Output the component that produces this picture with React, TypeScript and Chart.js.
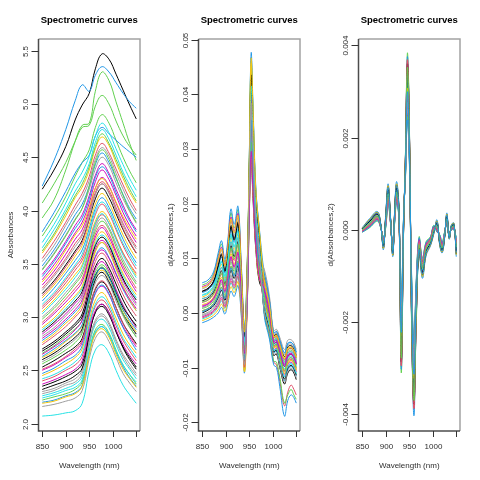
import React, { useEffect, useRef } from 'react';
import { Chart, registerables } from 'chart.js';

Chart.register(...registerables);

// ---------- shared axis data ----------
const panelTitle = 'Spectrometric curves';
const xTitle = 'Wavelength (nm)';
const xTicks = [850, 900, 950, 1000, 1050];
const xTickLabels = ['850', '900', '950', '1000', ''];
const palette = ['#000000', '#DF536B', '#61D04F', '#2297E6', '#28E2E5', '#CD0BBC', '#F5C710', '#9E9E9E'];

// ---------- panel 1: absorbances ----------
const wavelengths1 = [850, 875, 900, 920, 935, 950, 963, 977, 992, 1007, 1022, 1036, 1050];
const absorbanceCurves = [
  [4.20, 4.38, 4.60, 4.85, 4.99, 5.10, 5.33, 5.47, 5.42, 5.28, 5.13, 4.99, 4.86],
  [2.95, 3.05, 3.17, 3.27, 3.36, 3.58, 3.78, 3.86, 3.78, 3.62, 3.48, 3.37, 3.27],
  [3.93, 4.10, 4.38, 4.65, 4.80, 4.82, 5.12, 5.30, 5.22, 5.02, 4.82, 4.63, 4.47],
  [4.23, 4.47, 4.76, 5.03, 5.18, 5.12, 5.27, 5.35, 5.30, 5.20, 5.10, 5.02, 4.96],
  [2.07, 2.08, 2.10, 2.12, 2.19, 2.50, 2.69, 2.74, 2.66, 2.50, 2.36, 2.27, 2.19],
  [3.40, 3.54, 3.71, 3.86, 3.96, 4.14, 4.33, 4.44, 4.35, 4.20, 4.05, 3.92, 3.82],
  [2.62, 2.68, 2.77, 2.84, 2.92, 3.18, 3.37, 3.44, 3.36, 3.20, 3.06, 2.95, 2.86],
  [2.16, 2.18, 2.21, 2.24, 2.31, 2.61, 2.80, 2.86, 2.77, 2.62, 2.47, 2.38, 2.30],
  [3.22, 3.34, 3.49, 3.62, 3.72, 3.92, 4.11, 4.21, 4.12, 3.97, 3.82, 3.70, 3.60],
  [2.40, 2.44, 2.50, 2.55, 2.63, 2.91, 3.10, 3.16, 3.08, 2.92, 2.78, 2.68, 2.59],
  [3.76, 3.93, 4.13, 4.32, 4.45, 4.57, 4.78, 4.90, 4.82, 4.66, 4.50, 4.37, 4.26],
  [2.78, 2.86, 2.96, 3.05, 3.13, 3.37, 3.57, 3.65, 3.56, 3.41, 3.26, 3.15, 3.06],
  [3.65, 3.82, 4.01, 4.18, 4.29, 4.44, 4.64, 4.76, 4.67, 4.52, 4.36, 4.24, 4.13],
  [2.50, 2.55, 2.62, 2.68, 2.76, 3.03, 3.22, 3.29, 3.21, 3.05, 2.91, 2.81, 2.72],
  [3.05, 3.16, 3.29, 3.40, 3.49, 3.71, 3.90, 3.99, 3.91, 3.75, 3.60, 3.49, 3.39],
  [2.30, 2.33, 2.38, 2.42, 2.50, 2.78, 2.97, 3.03, 2.95, 2.79, 2.65, 2.56, 2.47],
  [2.70, 2.77, 2.86, 2.94, 3.03, 3.28, 3.47, 3.55, 3.46, 3.31, 3.16, 3.05, 2.96],
  [3.55, 3.71, 3.89, 4.05, 4.16, 4.32, 4.52, 4.63, 4.54, 4.39, 4.24, 4.11, 4.00],
  [2.22, 2.25, 2.28, 2.32, 2.39, 2.68, 2.88, 2.93, 2.85, 2.69, 2.55, 2.46, 2.37],
  [3.80, 3.98, 4.18, 4.35, 4.45, 4.52, 4.70, 4.78, 4.72, 4.66, 4.60, 4.55, 4.50],
  [2.88, 2.97, 3.08, 3.18, 3.27, 3.50, 3.69, 3.77, 3.69, 3.53, 3.39, 3.28, 3.18],
  [3.30, 3.43, 3.59, 3.73, 3.82, 4.01, 4.21, 4.31, 4.23, 4.07, 3.92, 3.80, 3.70],
  [2.45, 2.50, 2.56, 2.62, 2.70, 2.97, 3.16, 3.23, 3.14, 2.99, 2.84, 2.74, 2.66],
  [2.58, 2.64, 2.72, 2.79, 2.87, 3.13, 3.32, 3.39, 3.31, 3.15, 3.01, 2.90, 2.82],
  [2.35, 2.39, 2.44, 2.49, 2.56, 2.84, 3.04, 3.10, 3.02, 2.86, 2.72, 2.62, 2.53],
  [3.10, 3.21, 3.35, 3.47, 3.56, 3.77, 3.96, 4.06, 3.97, 3.82, 3.67, 3.55, 3.45],
  [2.66, 2.73, 2.82, 2.89, 2.97, 3.23, 3.42, 3.49, 3.41, 3.25, 3.11, 3.00, 2.91],
  [3.48, 3.63, 3.81, 3.96, 4.06, 4.23, 4.43, 4.54, 4.45, 4.30, 4.15, 4.02, 3.92],
  [2.26, 2.29, 2.33, 2.37, 2.44, 2.73, 2.93, 2.98, 2.90, 2.74, 2.60, 2.51, 2.42],
  [2.84, 2.93, 3.03, 3.13, 3.21, 3.45, 3.64, 3.72, 3.64, 3.48, 3.34, 3.23, 3.13],
  [3.60, 3.76, 3.95, 4.12, 4.22, 4.38, 4.58, 4.69, 4.61, 4.45, 4.30, 4.17, 4.07],
  [3.00, 3.10, 3.23, 3.33, 3.43, 3.64, 3.84, 3.93, 3.84, 3.69, 3.54, 3.43, 3.33],
  [2.53, 2.59, 2.66, 2.72, 2.80, 3.07, 3.26, 3.33, 3.25, 3.09, 2.94, 2.84, 2.75],
  [2.74, 2.82, 2.91, 3.00, 3.08, 3.32, 3.52, 3.60, 3.51, 3.36, 3.21, 3.10, 3.01],
  [4.07, 4.25, 4.45, 4.65, 4.78, 4.80, 4.98, 5.08, 5.00, 4.84, 4.70, 4.60, 4.52],
  [3.15, 3.27, 3.41, 3.53, 3.63, 3.83, 4.02, 4.12, 4.03, 3.88, 3.73, 3.61, 3.51],
  [2.42, 2.46, 2.52, 2.58, 2.66, 2.93, 3.12, 3.19, 3.11, 2.95, 2.80, 2.71, 2.62],
  [3.35, 3.49, 3.65, 3.79, 3.89, 4.07, 4.27, 4.38, 4.29, 4.14, 3.98, 3.86, 3.76],
  [2.90, 2.99, 3.11, 3.20, 3.29, 3.52, 3.72, 3.80, 3.72, 3.56, 3.41, 3.30, 3.21],
  [3.45, 3.60, 3.77, 3.92, 4.02, 4.20, 4.39, 4.50, 4.42, 4.26, 4.11, 3.99, 3.88],
  [2.60, 2.66, 2.74, 2.81, 2.89, 3.15, 3.35, 3.42, 3.33, 3.18, 3.03, 2.93, 2.84],
  [3.27, 3.40, 3.55, 3.69, 3.78, 3.98, 4.17, 4.27, 4.19, 4.03, 3.88, 3.76, 3.66],
  [2.98, 3.08, 3.20, 3.31, 3.40, 3.62, 3.81, 3.90, 3.82, 3.66, 3.51, 3.40, 3.31],
  [2.20, 2.22, 2.26, 2.29, 2.36, 2.66, 2.85, 2.91, 2.83, 2.67, 2.53, 2.43, 2.35],
  [3.70, 3.87, 4.07, 4.25, 4.36, 4.51, 4.70, 4.82, 4.73, 4.58, 4.43, 4.30, 4.19],
  [2.65, 2.72, 2.80, 2.88, 2.97, 3.25, 3.45, 3.52, 3.43, 3.26, 3.11, 3.00, 2.90],
  [3.18, 3.30, 3.44, 3.57, 3.67, 3.87, 4.06, 4.16, 4.07, 3.92, 3.77, 3.65, 3.55],
  [2.82, 2.90, 3.01, 3.10, 3.19, 3.42, 3.62, 3.70, 3.61, 3.46, 3.31, 3.20, 3.11],
  [2.32, 2.36, 2.40, 2.45, 2.52, 2.83, 3.05, 3.12, 3.04, 2.87, 2.71, 2.60, 2.51],
  [3.08, 3.19, 3.32, 3.44, 3.53, 3.70, 3.87, 3.96, 3.88, 3.74, 3.60, 3.50, 3.41],
  [2.56, 2.62, 2.69, 2.76, 2.85, 3.15, 3.39, 3.47, 3.38, 3.20, 3.03, 2.91, 2.81],
  [3.38, 3.52, 3.69, 3.83, 3.93, 4.11, 4.31, 4.41, 4.33, 4.17, 4.02, 3.90, 3.80],
  [2.24, 2.27, 2.31, 2.34, 2.41, 2.68, 2.86, 2.91, 2.83, 2.68, 2.55, 2.46, 2.39],
  [2.93, 3.03, 3.14, 3.24, 3.33, 3.56, 3.75, 3.84, 3.75, 3.60, 3.45, 3.34, 3.24],
  [2.76, 2.84, 2.94, 3.02, 3.12, 3.39, 3.61, 3.70, 3.62, 3.45, 3.29, 3.16, 3.06],
  [3.52, 3.67, 3.86, 4.01, 4.12, 4.28, 4.48, 4.59, 4.51, 4.35, 4.20, 4.07, 3.97],
  [2.68, 2.75, 2.84, 2.92, 3.00, 3.22, 3.39, 3.46, 3.38, 3.23, 3.09, 3.00, 2.92],
  [3.20, 3.32, 3.47, 3.60, 3.70, 3.93, 4.15, 4.25, 4.17, 4.00, 3.83, 3.71, 3.60],
  [3.62, 3.78, 3.98, 4.14, 4.25, 4.41, 4.60, 4.72, 4.63, 4.48, 4.33, 4.20, 4.09],
  [2.47, 2.52, 2.59, 2.64, 2.73, 3.02, 3.23, 3.30, 3.22, 3.05, 2.90, 2.79, 2.69],
  [3.03, 3.14, 3.26, 3.37, 3.47, 3.68, 3.88, 3.97, 3.88, 3.73, 3.58, 3.47, 3.37],
  [2.37, 2.41, 2.46, 2.51, 2.59, 2.87, 3.06, 3.12, 3.04, 2.88, 2.74, 2.64, 2.56],
  [3.33, 3.46, 3.63, 3.77, 3.86, 4.03, 4.21, 4.30, 4.22, 4.08, 3.94, 3.83, 3.73],
  [2.28, 2.31, 2.36, 2.39, 2.47, 2.76, 2.95, 3.01, 2.93, 2.77, 2.63, 2.53, 2.45],
  [2.86, 2.95, 3.06, 3.15, 3.24, 3.47, 3.67, 3.75, 3.67, 3.51, 3.36, 3.25, 3.16],
  [2.51, 2.56, 2.63, 2.70, 2.78, 3.06, 3.27, 3.34, 3.26, 3.09, 2.94, 2.83, 2.74],
  [3.44, 3.59, 3.76, 3.91, 4.02, 4.23, 4.45, 4.57, 4.48, 4.31, 4.14, 4.00, 3.89],
  [2.63, 2.70, 2.78, 2.85, 2.93, 3.19, 3.38, 3.46, 3.37, 3.22, 3.07, 2.97, 2.88],
  [3.12, 3.23, 3.37, 3.49, 3.59, 3.79, 3.99, 4.08, 4.00, 3.84, 3.69, 3.58, 3.48],
  [2.80, 2.88, 2.98, 3.07, 3.16, 3.38, 3.56, 3.63, 3.55, 3.40, 3.27, 3.17, 3.08],
  [2.19, 2.21, 2.25, 2.28, 2.35, 2.65, 2.84, 2.89, 2.81, 2.65, 2.51, 2.42, 2.34],
  [3.25, 3.38, 3.53, 3.66, 3.76, 3.95, 4.15, 4.25, 4.16, 4.01, 3.86, 3.74, 3.64],
];
const yTicks1 = [2.0, 2.5, 3.0, 3.5, 4.0, 4.5, 5.0, 5.5];
const yTickLabels1 = ['2.0', '2.5', '3.0', '3.5', '4.0', '4.5', '5.0', '5.5'];

// ---------- panel 2: first derivative ----------
const wavelengths2 = [850, 862, 874, 884, 891, 898, 904, 911, 918, 926, 933, 940, 946, 950, 954, 958, 964, 972, 982, 993, 1002, 1008, 1015, 1025, 1032, 1039, 1045, 1050];
const firstDerivCurves = [
  [22e-4, 27e-4, 38e-4, 61e-4, 77e-4, 53e-4, 78e-4, 123e-4, 103e-4, 130e-4, 47e-4, -63e-4, 24e-4, 176e-4, 280e-4, 209e-4, 116e-4, 55e-4, 40e-4, -5e-4, -56e-4, -53e-4, -72e-4, -98e-4, -80e-4, -76e-4, -82e-4, -94e-4],
  [4e-4, 8e-4, 17e-4, 33e-4, 47e-4, 28e-4, 50e-4, 85e-4, 70e-4, 94e-4, 24e-4, -84e-4, 64e-4, 231e-4, 383e-4, 299e-4, 176e-4, 105e-4, 32e-4, -12e-4, -60e-4, -57e-4, -78e-4, -105e-4, -86e-4, -82e-4, -88e-4, -100e-4],
  [51e-4, 56e-4, 71e-4, 105e-4, 126e-4, 93e-4, 124e-4, 183e-4, 155e-4, 188e-4, 85e-4, -29e-4, 94e-4, 271e-4, 459e-4, 366e-4, 220e-4, 142e-4, 56e-4, 9e-4, -46e-4, -43e-4, -61e-4, -86e-4, -68e-4, -65e-4, -71e-4, -83e-4],
  [55e-4, 60e-4, 75e-4, 110e-4, 132e-4, 98e-4, 130e-4, 190e-4, 162e-4, 195e-4, 90e-4, -25e-4, 100e-4, 280e-4, 475e-4, 380e-4, 230e-4, 150e-4, 72e-4, 23e-4, -37e-4, -34e-4, -50e-4, -73e-4, -56e-4, -54e-4, -60e-4, -72e-4],
  [-11e-4, -7e-4, 0, 11e-4, 22e-4, 8e-4, 27e-4, 55e-4, 43e-4, 65e-4, 5e-4, -101e-4, 56e-4, 220e-4, 362e-4, 281e-4, 164e-4, 95e-4, 16e-4, -26e-4, -69e-4, -66e-4, -89e-4, -117e-4, -98e-4, -93e-4, -99e-4, -111e-4],
  [11e-4, 16e-4, 25e-4, 44e-4, 59e-4, 38e-4, 61e-4, 100e-4, 83e-4, 108e-4, 33e-4, -75e-4, 48e-4, 209e-4, 342e-4, 263e-4, 152e-4, 85e-4, 48e-4, 2e-4, -51e-4, -48e-4, -67e-4, -92e-4, -74e-4, -71e-4, -77e-4, -89e-4],
  [29e-4, 34e-4, 46e-4, 72e-4, 89e-4, 63e-4, 90e-4, 138e-4, 116e-4, 144e-4, 57e-4, -105e-4, 32e-4, 187e-4, 301e-4, 227e-4, 128e-4, 65e-4, 24e-4, -19e-4, -64e-4, -61e-4, -83e-4, -111e-4, -92e-4, -87e-4, -93e-4, -105e-4],
  [-3e-4, 1e-4, 9e-4, 22e-4, 34e-4, 18e-4, 38e-4, 70e-4, 56e-4, 79e-4, 14e-4, -92e-4, 68e-4, 236e-4, 393e-4, 308e-4, 182e-4, 110e-4, 44e-4, -1e-4, -53e-4, -50e-4, -70e-4, -95e-4, -77e-4, -74e-4, -80e-4, -92e-4],
  [40e-4, 45e-4, 58e-4, 88e-4, 108e-4, 78e-4, 107e-4, 160e-4, 136e-4, 166e-4, 71e-4, -42e-4, 52e-4, 214e-4, 352e-4, 272e-4, 158e-4, 90e-4, 64e-4, 16e-4, -42e-4, -39e-4, -56e-4, -80e-4, -62e-4, -60e-4, -66e-4, -78e-4],
  [19e-4, 23e-4, 34e-4, 55e-4, 71e-4, 48e-4, 73e-4, 115e-4, 96e-4, 123e-4, 43e-4, -67e-4, 80e-4, 253e-4, 424e-4, 335e-4, 200e-4, 125e-4, 28e-4, -15e-4, -62e-4, -59e-4, -81e-4, -108e-4, -89e-4, -85e-4, -91e-4, -103e-4],
  [8e-4, 12e-4, 21e-4, 39e-4, 53e-4, 33e-4, 55e-4, 93e-4, 76e-4, 101e-4, 28e-4, -80e-4, 88e-4, 264e-4, 444e-4, 353e-4, 212e-4, 135e-4, 52e-4, 6e-4, -49e-4, -46e-4, -64e-4, -89e-4, -71e-4, -68e-4, -74e-4, -86e-4],
  [-18e-4, -14e-4, -8e-4, 0, 10e-4, -2e-4, 15e-4, 40e-4, 30e-4, 50e-4, -5e-4, -109e-4, 76e-4, 247e-4, 414e-4, 326e-4, 194e-4, 120e-4, 8e-4, -33e-4, -73e-4, -70e-4, -94e-4, -124e-4, -104e-4, -98e-4, -104e-4, -116e-4],
  [33e-4, 38e-4, 50e-4, 77e-4, 95e-4, 68e-4, 96e-4, 145e-4, 122e-4, 152e-4, 62e-4, -50e-4, 44e-4, 203e-4, 332e-4, 254e-4, 146e-4, 80e-4, 36e-4, -8e-4, -58e-4, -55e-4, -75e-4, -102e-4, -83e-4, -79e-4, -85e-4, -97e-4],
  [-7e-4, -3e-4, 4e-4, 17e-4, 28e-4, 13e-4, 32e-4, 63e-4, 50e-4, 72e-4, 9e-4, -96e-4, 36e-4, 192e-4, 311e-4, 236e-4, 134e-4, 70e-4, 20e-4, -22e-4, -67e-4, -64e-4, -86e-4, -114e-4, -95e-4, -90e-4, -96e-4, -108e-4],
  [15e-4, 19e-4, 29e-4, 50e-4, 65e-4, 43e-4, 67e-4, 108e-4, 89e-4, 115e-4, 38e-4, -108e-4, 28e-4, 181e-4, 291e-4, 218e-4, 122e-4, 60e-4, 60e-4, 13e-4, -44e-4, -41e-4, -59e-4, -83e-4, -65e-4, -63e-4, -69e-4, -81e-4],
  [44e-4, 49e-4, 63e-4, 94e-4, 114e-4, 83e-4, 113e-4, 168e-4, 142e-4, 173e-4, 76e-4, -38e-4, 60e-4, 225e-4, 373e-4, 290e-4, 170e-4, 100e-4, 80e-4, 30e-4, -33e-4, -30e-4, -45e-4, -67e-4, -50e-4, -49e-4, -55e-4, -67e-4],
  [0, 5e-4, 13e-4, 28e-4, 41e-4, 23e-4, 44e-4, 78e-4, 63e-4, 86e-4, 19e-4, -88e-4, 72e-4, 242e-4, 403e-4, 317e-4, 188e-4, 115e-4, 0, -40e-4, -78e-4, -75e-4, -100e-4, -130e-4, -110e-4, -104e-4, -110e-4, -122e-4],
  [26e-4, 30e-4, 42e-4, 66e-4, 83e-4, 58e-4, 84e-4, 130e-4, 109e-4, 137e-4, 52e-4, -59e-4, 60e-4, 225e-4, 373e-4, 290e-4, 170e-4, 100e-4, 5e-4, -40e-4, -90e-4, -95e-4, -125e-4, -170e-4, -145e-4, -132e-4, -140e-4, -150e-4],
  [4e-4, 8e-4, 17e-4, 33e-4, 47e-4, 28e-4, 50e-4, 85e-4, 70e-4, 94e-4, 24e-4, -84e-4, 84e-4, 258e-4, 434e-4, 344e-4, 206e-4, 130e-4, 0, -42e-4, -88e-4, -90e-4, -118e-4, -165e-4, -150e-4, -140e-4, -150e-4, -158e-4],
  [37e-4, 42e-4, 54e-4, 83e-4, 102e-4, 73e-4, 101e-4, 153e-4, 129e-4, 159e-4, 66e-4, -46e-4, 96e-4, 275e-4, 465e-4, 371e-4, 224e-4, 145e-4, -5e-4, -48e-4, -95e-4, -100e-4, -135e-4, -189e-4, -160e-4, -150e-4, -155e-4, -165e-4],
  [26e-4, 30e-4, 42e-4, 66e-4, 83e-4, 58e-4, 84e-4, 130e-4, 109e-4, 137e-4, 52e-4, -59e-4, 40e-4, 198e-4, 321e-4, 245e-4, 140e-4, 75e-4, 48e-4, 2e-4, -51e-4, -48e-4, -67e-4, -92e-4, -74e-4, -71e-4, -77e-4, -89e-4],
  [48e-4, 53e-4, 67e-4, 99e-4, 120e-4, 88e-4, 119e-4, 175e-4, 149e-4, 181e-4, 81e-4, -33e-4, 68e-4, 236e-4, 393e-4, 308e-4, 182e-4, 110e-4, 40e-4, -5e-4, -56e-4, -53e-4, -72e-4, -98e-4, -80e-4, -76e-4, -82e-4, -94e-4],
  [-14e-4, -10e-4, -4e-4, 6e-4, 16e-4, 3e-4, 21e-4, 48e-4, 37e-4, 57e-4, 0, -105e-4, 92e-4, 269e-4, 455e-4, 362e-4, 218e-4, 140e-4, 24e-4, -19e-4, -64e-4, -61e-4, -83e-4, -111e-4, -92e-4, -87e-4, -93e-4, -105e-4],
  [10e-4, 14e-4, 24e-4, 42e-4, 56e-4, 36e-4, 59e-4, 97e-4, 80e-4, 105e-4, 31e-4, -77e-4, 56e-4, 220e-4, 362e-4, 281e-4, 164e-4, 95e-4, 68e-4, 20e-4, -40e-4, -37e-4, -53e-4, -76e-4, -59e-4, -57e-4, -63e-4, -75e-4],
  [39e-4, 44e-4, 57e-4, 86e-4, 105e-4, 76e-4, 105e-4, 157e-4, 133e-4, 163e-4, 69e-4, -43e-4, 84e-4, 258e-4, 434e-4, 344e-4, 206e-4, 130e-4, 12e-4, -30e-4, -71e-4, -68e-4, -92e-4, -121e-4, -101e-4, -96e-4, -102e-4, -114e-4],
  [-9e-4, -5e-4, 2e-4, 13e-4, 25e-4, 10e-4, 29e-4, 58e-4, 46e-4, 67e-4, 6e-4, -99e-4, 44e-4, 203e-4, 332e-4, 254e-4, 146e-4, 80e-4, 56e-4, 9e-4, -46e-4, -43e-4, -61e-4, -86e-4, -68e-4, -65e-4, -71e-4, -83e-4],
  [20e-4, 24e-4, 35e-4, 57e-4, 73e-4, 50e-4, 75e-4, 118e-4, 99e-4, 125e-4, 44e-4, -65e-4, 36e-4, 192e-4, 311e-4, 236e-4, 134e-4, 70e-4, 32e-4, -12e-4, -60e-4, -57e-4, -78e-4, -105e-4, -86e-4, -82e-4, -88e-4, -100e-4],
  [2e-4, 7e-4, 15e-4, 31e-4, 44e-4, 26e-4, 47e-4, 82e-4, 67e-4, 91e-4, 22e-4, -85e-4, 52e-4, 214e-4, 352e-4, 272e-4, 158e-4, 90e-4, 72e-4, 23e-4, -37e-4, -34e-4, -50e-4, -73e-4, -56e-4, -54e-4, -60e-4, -72e-4],
  [32e-4, 36e-4, 48e-4, 75e-4, 93e-4, 66e-4, 93e-4, 142e-4, 120e-4, 149e-4, 60e-4, -52e-4, 76e-4, 247e-4, 414e-4, 326e-4, 194e-4, 120e-4, 16e-4, -26e-4, -69e-4, -66e-4, -89e-4, -117e-4, -98e-4, -93e-4, -99e-4, -111e-4],
  [13e-4, 17e-4, 27e-4, 46e-4, 61e-4, 40e-4, 63e-4, 103e-4, 85e-4, 111e-4, 35e-4, -74e-4, 30e-4, 183e-4, 295e-4, 222e-4, 124e-4, 62e-4, 44e-4, -1e-4, -53e-4, -50e-4, -70e-4, -95e-4, -77e-4, -74e-4, -80e-4, -92e-4],
  [46e-4, 51e-4, 65e-4, 97e-4, 117e-4, 86e-4, 116e-4, 172e-4, 146e-4, 178e-4, 79e-4, -35e-4, 96e-4, 275e-4, 465e-4, 371e-4, 224e-4, 145e-4, 60e-4, 13e-4, -44e-4, -41e-4, -59e-4, -83e-4, -65e-4, -63e-4, -69e-4, -81e-4],
  [-5e-4, -1e-4, 7e-4, 20e-4, 32e-4, 16e-4, 36e-4, 67e-4, 54e-4, 76e-4, 12e-4, -94e-4, 64e-4, 231e-4, 383e-4, 299e-4, 176e-4, 105e-4, 4e-4, -36e-4, -76e-4, -73e-4, -97e-4, -127e-4, -107e-4, -101e-4, -107e-4, -119e-4],
];
const yTicks2 = [-0.02, -0.01, 0, 0.01, 0.02, 0.03, 0.04, 0.05];
const yTickLabels2 = ['-0.02', '-0.01', '0.00', '0.01', '0.02', '0.03', '0.04', '0.05'];

// ---------- panel 3: second derivative ----------
const wavelengths3 = [850, 866, 882, 889, 895, 900, 905, 910, 915, 919, 923, 928, 933, 938, 942, 946, 950, 955, 960, 965, 971, 978, 986, 995, 1002, 1009, 1015, 1020, 1025, 1030, 1035, 1040, 1045, 1050];
const secondDerivCurves = [
  [0, 15e-5, 30e-5, 10e-5, -29e-5, 20e-5, 79e-5, 23e-5, -44e-5, 30e-5, 82e-5, 38e-5, -190e-5, 26e-5, 125e-5, 268e-5, 175e-5, -120e-5, -281e-5, -125e-5, -33e-5, -83e-5, -40e-5, -25e-5, 0, 9e-5, -23e-5, -39e-5, -13e-5, 24e-5, -14e-5, 6e-5, 8e-5, -37e-5],
  [-2e-5, 11e-5, 25e-5, 8e-5, -23e-5, 14e-5, 71e-5, 20e-5, -38e-5, 24e-5, 72e-5, 33e-5, -246e-5, 14e-5, 146e-5, 322e-5, 210e-5, -162e-5, -338e-5, -160e-5, -26e-5, -74e-5, -34e-5, -21e-5, 4e-5, 3e-5, -18e-5, -35e-5, -10e-5, 18e-5, -12e-5, 4e-5, 5e-5, -28e-5],
  [2e-5, 19e-5, 34e-5, 12e-5, -34e-5, 26e-5, 87e-5, 26e-5, -49e-5, 36e-5, 91e-5, 43e-5, -310e-5, 0, 170e-5, 383e-5, 250e-5, -210e-5, -370e-5, -200e-5, -40e-5, -92e-5, -46e-5, -29e-5, -4e-5, 14e-5, -28e-5, -43e-5, -16e-5, 29e-5, -16e-5, 8e-5, 11e-5, -45e-5],
  [4e-5, 23e-5, 38e-5, 14e-5, -40e-5, 32e-5, 96e-5, 29e-5, -55e-5, 42e-5, 100e-5, 48e-5, -302e-5, 2e-5, 167e-5, 375e-5, 245e-5, -204e-5, -403e-5, -195e-5, -47e-5, -101e-5, -52e-5, -33e-5, -8e-5, 19e-5, -33e-5, -48e-5, -19e-5, 34e-5, -19e-5, 11e-5, 14e-5, -54e-5],
  [-3e-5, 9e-5, 23e-5, 7e-5, -20e-5, 11e-5, 66e-5, 18e-5, -35e-5, 21e-5, 67e-5, 30e-5, -262e-5, 10e-5, 152e-5, 337e-5, 220e-5, -174e-5, -354e-5, -170e-5, -22e-5, -69e-5, -31e-5, -19e-5, 6e-5, 0, -15e-5, -32e-5, -8e-5, 15e-5, -10e-5, 2e-5, 3e-5, -24e-5],
  [1e-5, 17e-5, 32e-5, 11e-5, -31e-5, 23e-5, 83e-5, 24e-5, -46e-5, 33e-5, 86e-5, 40e-5, -230e-5, 17e-5, 140e-5, 307e-5, 200e-5, -150e-5, -322e-5, -150e-5, -36e-5, -87e-5, -43e-5, -27e-5, -2e-5, 11e-5, -25e-5, -41e-5, -14e-5, 26e-5, -15e-5, 7e-5, 9e-5, -41e-5],
  [3e-5, 21e-5, 36e-5, 13e-5, -37e-5, 29e-5, 92e-5, 27e-5, -52e-5, 39e-5, 96e-5, 45e-5, -254e-5, 12e-5, 149e-5, 329e-5, 215e-5, -168e-5, -346e-5, -165e-5, -43e-5, -96e-5, -49e-5, -31e-5, -6e-5, 17e-5, -30e-5, -46e-5, -17e-5, 32e-5, -18e-5, 10e-5, 12e-5, -49e-5],
  [-4e-5, 7e-5, 21e-5, 6e-5, -17e-5, 8e-5, 62e-5, 17e-5, -32e-5, 18e-5, 63e-5, 28e-5, -198e-5, 24e-5, 128e-5, 276e-5, 180e-5, -126e-5, -289e-5, -130e-5, -19e-5, -65e-5, -28e-5, -17e-5, 8e-5, -2e-5, -13e-5, -30e-5, -7e-5, 13e-5, -9e-5, 1e-5, 2e-5, -19e-5],
  [-1e-5, 13e-5, 27e-5, 9e-5, -26e-5, 17e-5, 75e-5, 21e-5, -41e-5, 27e-5, 77e-5, 35e-5, -174e-5, 30e-5, 119e-5, 253e-5, 165e-5, -108e-5, -264e-5, -115e-5, -29e-5, -78e-5, -37e-5, -23e-5, 2e-5, 6e-5, -20e-5, -37e-5, -11e-5, 21e-5, -13e-5, 5e-5, 6e-5, -32e-5],
  [2e-5, 18e-5, 33e-5, 12e-5, -33e-5, 25e-5, 85e-5, 25e-5, -48e-5, 35e-5, 89e-5, 41e-5, -278e-5, 7e-5, 158e-5, 352e-5, 230e-5, -186e-5, -370e-5, -180e-5, -38e-5, -89e-5, -45e-5, -28e-5, -3e-5, 13e-5, -26e-5, -42e-5, -15e-5, 28e-5, -16e-5, 8e-5, 10e-5, -43e-5],
  [-5e-5, 5e-5, 19e-5, 5e-5, -14e-5, 5e-5, 58e-5, 15e-5, -29e-5, 15e-5, 58e-5, 25e-5, -214e-5, 21e-5, 134e-5, 291e-5, 190e-5, -138e-5, -305e-5, -140e-5, -15e-5, -60e-5, -25e-5, -15e-5, 10e-5, -5e-5, -10e-5, -28e-5, -5e-5, 10e-5, -8e-5, 0, 0, -15e-5],
  [5e-5, 25e-5, 40e-5, 15e-5, -43e-5, 35e-5, 100e-5, 30e-5, -58e-5, 45e-5, 105e-5, 50e-5, -286e-5, 5e-5, 161e-5, 360e-5, 235e-5, -192e-5, -379e-5, -185e-5, -50e-5, -105e-5, -55e-5, -35e-5, -10e-5, 22e-5, -35e-5, -50e-5, -20e-5, 37e-5, -20e-5, 12e-5, 15e-5, -58e-5],
  [-1e-5, 12e-5, 26e-5, 9e-5, -24e-5, 16e-5, 73e-5, 20e-5, -39e-5, 26e-5, 74e-5, 34e-5, -238e-5, 16e-5, 143e-5, 314e-5, 205e-5, -156e-5, -330e-5, -155e-5, -27e-5, -76e-5, -36e-5, -22e-5, 3e-5, 4e-5, -19e-5, -36e-5, -10e-5, 19e-5, -12e-5, 4e-5, 5e-5, -30e-5],
  [3e-5, 20e-5, 35e-5, 13e-5, -36e-5, 28e-5, 90e-5, 26e-5, -51e-5, 38e-5, 93e-5, 44e-5, -206e-5, 23e-5, 131e-5, 284e-5, 185e-5, -132e-5, -297e-5, -135e-5, -41e-5, -94e-5, -48e-5, -30e-5, -5e-5, 15e-5, -29e-5, -45e-5, -16e-5, 30e-5, -17e-5, 9e-5, 11e-5, -47e-5],
  [1e-5, 16e-5, 31e-5, 11e-5, -30e-5, 22e-5, 81e-5, 23e-5, -45e-5, 32e-5, 84e-5, 39e-5, -270e-5, 9e-5, 155e-5, 345e-5, 225e-5, -180e-5, -362e-5, -175e-5, -34e-5, -85e-5, -42e-5, -26e-5, -1e-5, 10e-5, -24e-5, -40e-5, -13e-5, 25e-5, -15e-5, 7e-5, 8e-5, -39e-5],
  [-2e-5, 10e-5, 24e-5, 8e-5, -21e-5, 13e-5, 69e-5, 19e-5, -36e-5, 23e-5, 70e-5, 31e-5, -182e-5, 28e-5, 122e-5, 261e-5, 170e-5, -114e-5, -273e-5, -120e-5, -24e-5, -71e-5, -33e-5, -20e-5, 5e-5, 2e-5, -16e-5, -34e-5, -9e-5, 17e-5, -11e-5, 3e-5, 4e-5, -26e-5],
  [4e-5, 22e-5, 37e-5, 14e-5, -39e-5, 31e-5, 94e-5, 28e-5, -54e-5, 41e-5, 98e-5, 46e-5, -249e-5, 13e-5, 147e-5, 325e-5, 212e-5, -164e-5, -341e-5, -162e-5, -45e-5, -98e-5, -51e-5, -32e-5, -7e-5, 18e-5, -31e-5, -47e-5, -18e-5, 33e-5, -18e-5, 10e-5, 13e-5, -52e-5],
  [0, 14e-5, 28e-5, 10e-5, -27e-5, 19e-5, 77e-5, 22e-5, -42e-5, 29e-5, 79e-5, 36e-5, -294e-5, 3e-5, 164e-5, 368e-5, 240e-5, -198e-5, -387e-5, -190e-5, -31e-5, -80e-5, -39e-5, -24e-5, 1e-5, 7e-5, -21e-5, -38e-5, -12e-5, 22e-5, -13e-5, 5e-5, 7e-5, -34e-5],
  [-3e-5, 8e-5, 22e-5, 7e-5, -18e-5, 10e-5, 64e-5, 17e-5, -33e-5, 20e-5, 65e-5, 29e-5, -166e-5, 31e-5, 116e-5, 245e-5, 160e-5, -102e-5, -256e-5, -110e-5, -20e-5, -67e-5, -30e-5, -18e-5, 7e-5, -1e-5, -14e-5, -31e-5, -7e-5, 14e-5, -10e-5, 2e-5, 2e-5, -21e-5],
  [-5e-5, 6e-5, 20e-5, 6e-5, -15e-5, 7e-5, 60e-5, 16e-5, -30e-5, 17e-5, 60e-5, 26e-5, -158e-5, 33e-5, 113e-5, 238e-5, 155e-5, -96e-5, -248e-5, -105e-5, -17e-5, -62e-5, -27e-5, -16e-5, 9e-5, -4e-5, -11e-5, -29e-5, -6e-5, 11e-5, -9e-5, 1e-5, 1e-5, -17e-5],
  [1e-5, 17e-5, 32e-5, 11e-5, -31e-5, 23e-5, 83e-5, 24e-5, -46e-5, 33e-5, 86e-5, 40e-5, -262e-5, 10e-5, 152e-5, 337e-5, 220e-5, -174e-5, -354e-5, -170e-5, -36e-5, -87e-5, -43e-5, -27e-5, -2e-5, 11e-5, -25e-5, -41e-5, -14e-5, 26e-5, -15e-5, 7e-5, 9e-5, -41e-5],
  [-3e-5, 9e-5, 23e-5, 7e-5, -20e-5, 11e-5, 66e-5, 18e-5, -35e-5, 21e-5, 67e-5, 30e-5, -214e-5, 21e-5, 134e-5, 291e-5, 190e-5, -138e-5, -305e-5, -140e-5, -22e-5, -69e-5, -31e-5, -19e-5, 6e-5, 0, -15e-5, -32e-5, -8e-5, 15e-5, -10e-5, 2e-5, 3e-5, -24e-5],
  [4e-5, 23e-5, 38e-5, 14e-5, -40e-5, 32e-5, 96e-5, 29e-5, -55e-5, 42e-5, 100e-5, 48e-5, -230e-5, 17e-5, 140e-5, 307e-5, 200e-5, -150e-5, -322e-5, -150e-5, -47e-5, -101e-5, -52e-5, -33e-5, -8e-5, 19e-5, -33e-5, -48e-5, -19e-5, 34e-5, -19e-5, 11e-5, 14e-5, -54e-5],
  [-1e-5, 13e-5, 27e-5, 9e-5, -26e-5, 17e-5, 75e-5, 21e-5, -41e-5, 27e-5, 77e-5, 35e-5, -198e-5, 24e-5, 128e-5, 276e-5, 180e-5, -126e-5, -289e-5, -130e-5, -29e-5, -78e-5, -37e-5, -23e-5, 2e-5, 6e-5, -20e-5, -37e-5, -11e-5, 21e-5, -13e-5, 5e-5, 6e-5, -32e-5],
  [2e-5, 19e-5, 34e-5, 12e-5, -34e-5, 26e-5, 87e-5, 26e-5, -49e-5, 36e-5, 91e-5, 43e-5, -286e-5, 5e-5, 161e-5, 360e-5, 235e-5, -192e-5, -379e-5, -185e-5, -40e-5, -92e-5, -46e-5, -29e-5, -4e-5, 14e-5, -28e-5, -43e-5, -16e-5, 29e-5, -16e-5, 8e-5, 11e-5, -45e-5],
  [-2e-5, 11e-5, 25e-5, 8e-5, -23e-5, 14e-5, 71e-5, 20e-5, -38e-5, 24e-5, 72e-5, 33e-5, -294e-5, 3e-5, 164e-5, 368e-5, 240e-5, -198e-5, -387e-5, -190e-5, -26e-5, -74e-5, -34e-5, -21e-5, 4e-5, 3e-5, -18e-5, -35e-5, -10e-5, 18e-5, -12e-5, 4e-5, 5e-5, -28e-5],
  [0, 15e-5, 30e-5, 10e-5, -29e-5, 20e-5, 79e-5, 23e-5, -44e-5, 30e-5, 82e-5, 38e-5, -278e-5, 7e-5, 158e-5, 352e-5, 230e-5, -186e-5, -370e-5, -180e-5, -33e-5, -83e-5, -40e-5, -25e-5, 0, 9e-5, -23e-5, -39e-5, -13e-5, 24e-5, -14e-5, 6e-5, 8e-5, -37e-5],
  [3e-5, 21e-5, 36e-5, 13e-5, -37e-5, 29e-5, 92e-5, 27e-5, -52e-5, 39e-5, 96e-5, 45e-5, -222e-5, 19e-5, 137e-5, 299e-5, 195e-5, -144e-5, -313e-5, -145e-5, -43e-5, -96e-5, -49e-5, -31e-5, -6e-5, 17e-5, -30e-5, -46e-5, -17e-5, 32e-5, -18e-5, 10e-5, 12e-5, -49e-5],
];
const yTicks3 = [-0.004, -0.002, 0, 0.002, 0.004];
const yTickLabels3 = ['-0.004', '-0.002', '0.000', '0.002', '0.004'];

type PanelSpec = {
  wl: number[];
  curves: number[][];
  yMin: number;
  yMax: number;
  yTicks: number[];
  yTickLabels: string[];
  yTitle: string;
};

const panels: PanelSpec[] = [
  { wl: wavelengths1, curves: absorbanceCurves, yMin: 1.93, yMax: 5.61, yTicks: yTicks1, yTickLabels: yTickLabels1, yTitle: 'Absorbances' },
  { wl: wavelengths2, curves: firstDerivCurves, yMin: -0.0216, yMax: 0.0501, yTicks: yTicks2, yTickLabels: yTickLabels2, yTitle: 'd(Absorbances,1)' },
  { wl: wavelengths3, curves: secondDerivCurves, yMin: -0.00436, yMax: 0.00414, yTicks: yTicks3, yTickLabels: yTickLabels3, yTitle: 'd(Absorbances,2)' },
];

const FONT = '"Liberation Sans", Arial, Helvetica, sans-serif';

function makeFrame(p: PanelSpec) {
  return {
    id: 'rFrame',
    afterDraw(chart: any) {
      const { ctx, chartArea: a } = chart;
      const xs = chart.scales.x;
      const ys = chart.scales.y;
      ctx.save();
      ctx.lineWidth = 1.5;
      ctx.strokeStyle = '#a3a3a3';
      ctx.beginPath();
      ctx.moveTo(a.left, a.top);
      ctx.lineTo(a.right, a.top);
      ctx.lineTo(a.right, a.bottom);
      ctx.stroke();
      ctx.strokeStyle = '#4d4d4d';
      ctx.beginPath();
      ctx.moveTo(a.left, a.top);
      ctx.lineTo(a.left, a.bottom);
      ctx.lineTo(a.right, a.bottom);
      ctx.stroke();
      ctx.lineWidth = 1;
      ctx.strokeStyle = '#333';
      ctx.fillStyle = '#2e2e2e';
      ctx.font = `8px ${FONT}`;
      ctx.textAlign = 'center';
      ctx.textBaseline = 'middle';
      xTicks.forEach((v, i) => {
        const px = Math.round(xs.getPixelForValue(v)) + 0.5;
        ctx.beginPath();
        ctx.moveTo(px, a.bottom);
        ctx.lineTo(px, a.bottom + 6);
        ctx.stroke();
        if (xTickLabels[i]) ctx.fillText(xTickLabels[i], px, 447);
      });
      p.yTicks.forEach((v, i) => {
        const py = Math.round(ys.getPixelForValue(v)) + 0.5;
        ctx.beginPath();
        ctx.moveTo(a.left - 7, py);
        ctx.lineTo(a.left, py);
        ctx.stroke();
        ctx.save();
        ctx.translate(26, py);
        ctx.rotate(-Math.PI / 2);
        ctx.fillText(p.yTickLabels[i], 0, 0);
        ctx.restore();
      });
      ctx.fillText(xTitle, (a.left + a.right) / 2, 466);
      ctx.save();
      ctx.translate(10.5, (a.top + a.bottom) / 2);
      ctx.rotate(-Math.PI / 2);
      ctx.fillText(p.yTitle, 0, 0);
      ctx.restore();
      ctx.fillStyle = '#000';
      ctx.font = `bold 9.5px ${FONT}`;
      ctx.fillText(panelTitle, (a.left + a.right) / 2, 20);
      ctx.restore();
    },
  };
}

function Panel({ p }: { p: PanelSpec }) {
  const ref = useRef<HTMLCanvasElement>(null);
  useEffect(() => {
    if (!ref.current) return;
    const datasets = p.curves.map((vals, i) => ({
      data: vals.map((v, j) => ({ x: p.wl[j], y: v })),
      borderColor: palette[i % palette.length],
      backgroundColor: palette[i % palette.length],
      borderWidth: 1,
      pointRadius: 0,
      tension: 0.4,
      fill: false,
      order: -i,
    }));
    const chart = new Chart(ref.current, {
      type: 'line',
      data: { datasets },
      options: {
        animation: false,
        responsive: false,
        devicePixelRatio: 1,
        events: [],
        layout: { padding: { left: 38.5, right: 20, top: 39, bottom: 49 } },
        plugins: { legend: { display: false }, tooltip: { enabled: false }, title: { display: false } },
        scales: {
          x: { type: 'linear', min: 842, max: 1058, display: false },
          y: { type: 'linear', min: p.yMin, max: p.yMax, display: false },
        },
      },
      plugins: [makeFrame(p)],
    } as any);
    return () => chart.destroy();
  }, [p]);
  return <canvas ref={ref} width={160} height={480} style={{ display: 'block', width: 160, height: 480 }} />;
}

export default function App() {
  return (
    <div style={{ position: 'fixed', left: 0, top: 0, width: 480, height: 480, display: 'flex', background: '#fff' }}>
      {panels.map((p, i) => (
        <Panel key={i} p={p} />
      ))}
    </div>
  );
}
